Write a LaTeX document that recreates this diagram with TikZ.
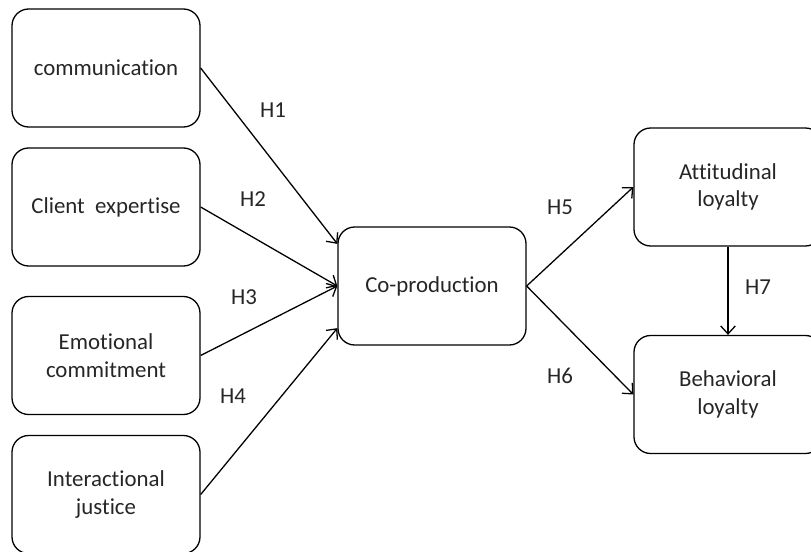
\documentclass[tikz,border=0pt]{standalone}
\usepackage{fontspec}
\setmainfont[RawFeature=-liga]{Carlito}
\usepackage{tikz}
\usetikzlibrary{calc}
\usetikzlibrary{arrows.meta}

\begin{document}
\begin{tikzpicture}[x=0.03cm, y=-0.03cm]
    \def\boxgap{139}
    \tikzstyle{block}=[rectangle, rounded corners=0.5cm, draw, line width=1.1pt, minimum width=5.64cm, minimum height=3.54cm, align=center, font=\fontsize{19.5}{23.5}\selectfont, text=black!85]
    \tikzstyle{arrow}=[-{Straight Barb[length=2.4mm,width=4.4mm]}, line width=1.1pt]
    \tikzstyle{hyp}=[font=\fontsize{19.5}{23.5}\selectfont, text=black!85]

    \useasboundingbox (0,0) rectangle (811,551);

    % nodes
    \node (com) [block] at (106,68) {communication};
    \path (com)+(0,\boxgap) node (exp) [block] {Client~~expertise};
    \path (exp)+(0,148.5) node (emo) [block] {Emotional\\commitment};
    \path (emo)+(0,\boxgap) node (jus) [block] {Interactional\\justice};

    \node (cop) [block] at (432,286) {Co-production};
    \node (att) [block] at (728,187) {Attitudinal\\loyalty};
    \path (att)+(0,207.5) node (beh) [block] {Behavioral\\loyalty};

    % arrows
    \draw[arrow] (com.east) -- (cop.156);
    \draw[arrow] (exp.east) -- (cop.west);
    \draw[arrow] (emo.east) -- (cop.west);
    \draw[arrow] (jus.east) -- (cop.204);

    \draw[arrow] (cop.east) -- (att.west);
    \draw[arrow] (cop.east) -- (beh.west);
    \draw[arrow] (att.south) -- (beh.north);

    % captions
    \node (h1) [hyp] at (273,110) {H1};
    \node (h2) [hyp] at (253,199) {H2};
    \node (h3) [hyp] at (244,297) {H3};
    \node (h4) [hyp] at (233,396) {H4};
    \node (h5) [hyp] at (560,207) {H5};
    \node (h6) [hyp] at (560,376) {H6};
    \node (h7) [hyp] at (758,287) {H7};
\end{tikzpicture}
\end{document}
